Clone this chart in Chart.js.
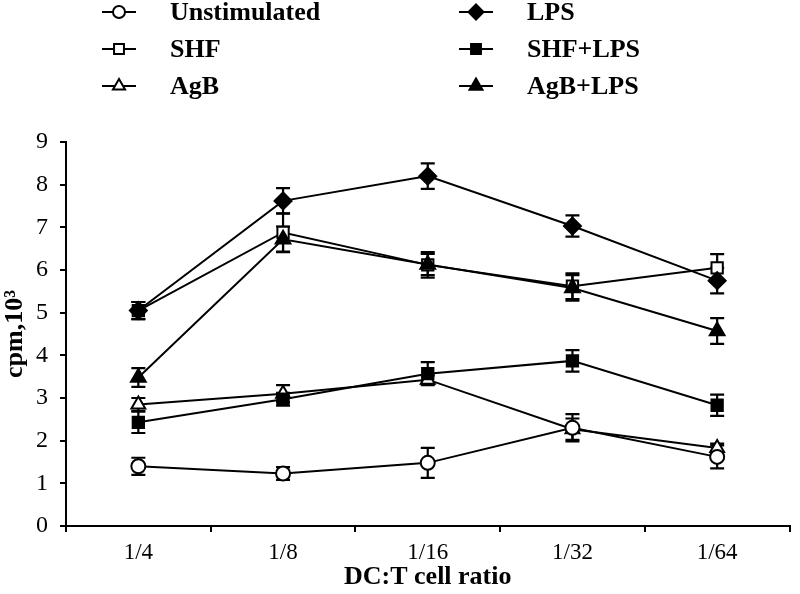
<!DOCTYPE html>
<html>
<head>
<meta charset="utf-8">
<script src="https://cdn.jsdelivr.net/npm/chart.js@4.4.0/dist/chart.umd.min.js"></script>
<style>
  html, body { margin: 0; padding: 0; background: #fff; }
  #wrap { width: 800px; height: 594px; }
</style>
</head>
<body>
<div id="wrap"><canvas id="cpmChart" width="800" height="594"></canvas></div>
<script>
'use strict';

// ********************* DATA *********************

let ratioLabels = ['1/4', '1/8', '1/16', '1/32', '1/64'];
let yTickValues = [0, 1, 2, 3, 4, 5, 6, 7, 8, 9];

let unstimulated = [1.40, 1.23, 1.48, 2.30, 1.62];
let unstimulatedErr = [0.20, 0.15, 0.35, 0.32, 0.27];

let shf = [5.05, 6.88, 6.12, 5.62, 6.05];
let shfErr = [0.20, 0.45, 0.30, 0.30, 0.32];

let agb = [2.85, 3.10, 3.43, 2.27, 1.83];
let agbErr = [0.15, 0.20, 0.10, 0.25, 0.10];

let lps = [5.05, 7.62, 8.20, 7.03, 5.75];
let lpsErr = [0.20, 0.30, 0.30, 0.25, 0.30];

let shfLps = [2.43, 2.97, 3.57, 3.87, 2.83];
let shfLpsErr = [0.25, 0.15, 0.27, 0.25, 0.25];

let agbLps = [3.48, 6.72, 6.13, 5.58, 4.57];
let agbLpsErr = [0.22, 0.30, 0.25, 0.30, 0.30];

const FONT = '"Liberation Serif", "Times New Roman", serif';

// ********************* DATASETS *********************

function makeSeries(label, values, errors, style, radius, filled) {
  return {
    label: label,
    data: values,
    errors: errors,
    order: filled ? 0 : 1, // filled markers sit on top of open ones
    borderColor: '#000',
    borderWidth: 2,
    pointStyle: style,
    pointRadius: radius,
    pointHoverRadius: radius,
    pointBorderWidth: 2,
    pointBorderColor: '#000',
    pointBackgroundColor: filled ? '#000' : '#fff',
    tension: 0,
    fill: false
  };
}

let datasets = [
  makeSeries('Unstimulated', unstimulated, unstimulatedErr, 'circle', 7, false),
  makeSeries('SHF', shf, shfErr, 'rect', 8, false),
  makeSeries('AgB', agb, agbErr, 'triangle', 8, false),
  makeSeries('LPS', lps, lpsErr, 'rectRot', 8.5, true),
  makeSeries('SHF+LPS', shfLps, shfLpsErr, 'rect', 8, true),
  makeSeries('AgB+LPS', agbLps, agbLpsErr, 'triangle', 8.5, true)
];

// legend grid: [dataset index, x of marker, x of text, y]
let legendSlots = [
  [0, 119, 170, 12], [3, 476, 527, 12],
  [1, 119, 170, 49], [4, 476, 527, 49],
  [2, 119, 170, 86], [5, 476, 527, 86]
];

// ********************* PLUGINS *********************

const errorBars = {
  id: 'errorBars',
  beforeDatasetsDraw(chart) {
    const ctx = chart.ctx;
    const x = chart.scales.x;
    const y = chart.scales.y;
    ctx.save();
    ctx.strokeStyle = '#000';
    ctx.lineWidth = 2.2;
    chart.data.datasets.forEach(ds => {
      ds.data.forEach((v, i) => {
        const px = x.getPixelForValue(i);
        const top = y.getPixelForValue(v + ds.errors[i]);
        const bot = y.getPixelForValue(v - ds.errors[i]);
        ctx.beginPath();
        ctx.moveTo(px, top);
        ctx.lineTo(px, bot);
        ctx.moveTo(px - 7, top);
        ctx.lineTo(px + 7, top);
        ctx.moveTo(px - 7, bot);
        ctx.lineTo(px + 7, bot);
        ctx.stroke();
      });
    });
    ctx.restore();
  }
};

const gridLegend = {
  id: 'gridLegend',
  afterDraw(chart) {
    const ctx = chart.ctx;
    ctx.save();
    legendSlots.forEach(slot => {
      const ds = chart.data.datasets[slot[0]];
      ctx.strokeStyle = '#000';
      ctx.lineWidth = 2;
      ctx.beginPath();
      ctx.moveTo(slot[1] - 17, slot[3]);
      ctx.lineTo(slot[1] + 17, slot[3]);
      ctx.stroke();
      ctx.fillStyle = ds.pointBackgroundColor;
      ctx.lineWidth = ds.pointBorderWidth;
      Chart.helpers.drawPoint(ctx, {
        pointStyle: ds.pointStyle,
        radius: ds.pointRadius - 1,
        rotation: 0,
        borderWidth: ds.pointBorderWidth
      }, slot[1], slot[3]);
      ctx.fillStyle = '#000';
      ctx.font = 'bold 26px ' + FONT;
      ctx.textAlign = 'left';
      ctx.textBaseline = 'middle';
      ctx.fillText(ds.label, slot[2], slot[3] + 1);
    });
    ctx.restore();
  }
};

// ********************* CHART *********************

let ctx = document.getElementById('cpmChart');

new Chart(ctx, {
  type: 'line',
  data: { labels: ratioLabels, datasets: datasets },
  options: {
    responsive: false,
    animation: false,
    devicePixelRatio: 1,
    layout: { padding: { top: 142, right: 2, left: 0, bottom: 0 } },
    plugins: {
      legend: { display: false },
      tooltip: { enabled: false }
    },
    scales: {
      x: {
        type: 'category',
        offset: true,
        grid: {
          offset: true,
          drawOnChartArea: false,
          drawTicks: true,
          tickLength: 6,
          color: '#000',
          lineWidth: 2
        },
        border: { display: true, color: '#000', width: 2 },
        ticks: { color: '#000', font: { family: FONT, size: 23 }, padding: 7 },
        title: {
          display: true,
          text: 'DC:T cell ratio',
          color: '#000',
          font: { family: FONT, size: 26, weight: 'bold' },
          padding: { top: 0, bottom: 1 }
        },
        afterFit(scale) { scale.height = 68; }
      },
      y: {
        min: 0,
        max: 9,
        afterBuildTicks(scale) { scale.ticks = yTickValues.map(v => ({ value: v })); },
        grid: {
          drawOnChartArea: false,
          drawTicks: true,
          tickLength: 6,
          color: '#000',
          lineWidth: 2
        },
        border: { display: true, color: '#000', width: 2 },
        ticks: { color: '#000', font: { family: FONT, size: 24 }, padding: 12 },
        title: {
          display: true,
          text: 'cpm,10³',
          color: '#000',
          font: { family: FONT, size: 26, weight: 'bold' },
          padding: { top: 0, bottom: 0 }
        },
        afterFit(scale) { scale.width = 66; }
      }
    }
  },
  plugins: [errorBars, gridLegend]
});
</script>
</body>
</html>
